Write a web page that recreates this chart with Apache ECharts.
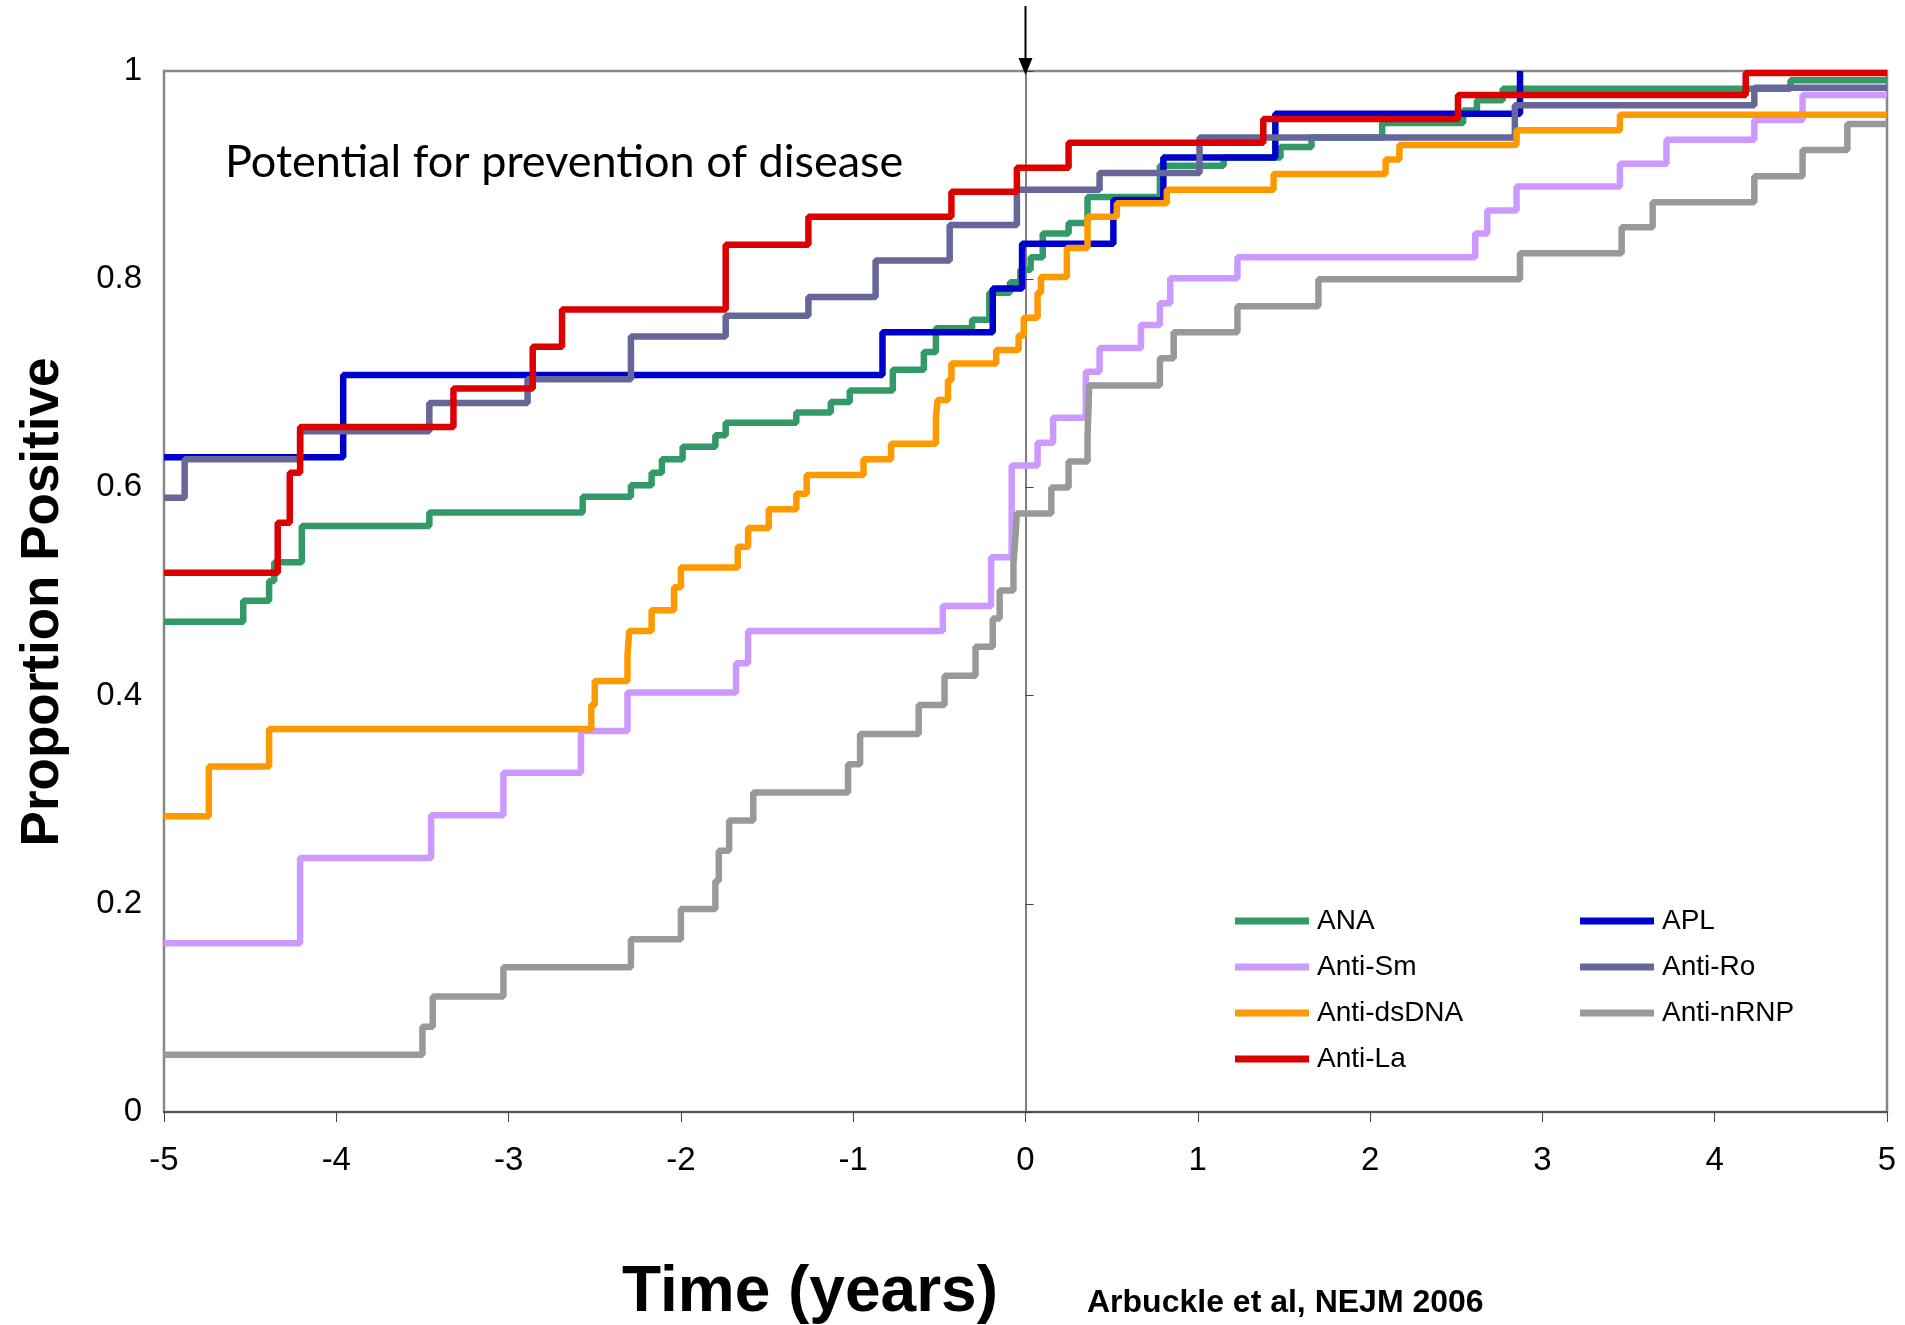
<!DOCTYPE html>
<html>
<head>
<meta charset="utf-8">
<script src="https://cdn.jsdelivr.net/npm/echarts@6/dist/echarts.min.js"></script>
<style>
  html, body { margin: 0; padding: 0; background: #fff; }
  #chart { width: 1905px; height: 1325px; }
</style>
</head>
<body>
<div id="chart"></div>
<script>
// time (years) of each step, value = proportion positive from that time on
var anaT = [-5, -4.54, -4.39, -4.36, -4.20, -3.46, -2.57, -2.29, -2.17, -2.11, -1.99, -1.80, -1.74, -1.33, -1.13, -1.02, -0.77, -0.59, -0.52, -0.31, -0.21, -0.09, -0.03, 0.03, 0.10, 0.25, 0.36, 0.78, 1.15, 1.48, 1.66, 2.07, 2.54, 2.62, 2.77, 4.44, 5];
var anaV = [0.471, 0.491, 0.510, 0.528, 0.563, 0.576, 0.591, 0.602, 0.614, 0.627, 0.639, 0.650, 0.662, 0.672, 0.682, 0.693, 0.713, 0.730, 0.753, 0.761, 0.787, 0.797, 0.809, 0.821, 0.844, 0.854, 0.879, 0.909, 0.917, 0.927, 0.936, 0.950, 0.962, 0.972, 0.983, 0.991, 0.991];

var aplT = [-5, -3.96, -0.83, -0.19, -0.02, 0.51, 0.80, 1.45, 2.87];
var aplV = [0.629, 0.708, 0.749, 0.791, 0.834, 0.876, 0.917, 0.959, 1.0];

var smT = [-5, -4.21, -3.45, -3.03, -2.58, -2.31, -1.68, -1.61, -0.48, -0.20, -0.08, 0.07, 0.16, 0.35, 0.43, 0.67, 0.78, 0.84, 1.23, 2.61, 2.68, 2.85, 3.45, 3.72, 4.23, 4.51, 5];
var smV = [0.162, 0.244, 0.285, 0.326, 0.366, 0.403, 0.431, 0.462, 0.486, 0.533, 0.621, 0.643, 0.667, 0.711, 0.734, 0.756, 0.777, 0.801, 0.821, 0.844, 0.866, 0.889, 0.911, 0.934, 0.953, 0.977, 0.977];

var roT = [-5, -4.88, -4.21, -3.46, -2.89, -2.29, -1.74, -1.26, -0.87, -0.44, -0.05, 0.43, 1.01, 2.84, 4.23, 5];
var roV = [0.590, 0.627, 0.654, 0.681, 0.704, 0.745, 0.765, 0.783, 0.818, 0.852, 0.886, 0.902, 0.936, 0.967, 0.984, 0.984];

var dsT = [-5, -4.74, -4.39, -2.52, -2.50, -2.31, -2.30, -2.17, -2.04, -2.00, -1.67, -1.61, -1.49, -1.33, -1.27, -0.94, -0.78, -0.52, -0.51, -0.45, -0.43, -0.17, -0.04, -0.01, 0.07, 0.09, 0.24, 0.36, 0.53, 0.82, 1.44, 2.09, 2.17, 2.85, 3.45, 5];
var dsV = [0.284, 0.332, 0.368, 0.391, 0.414, 0.438, 0.462, 0.482, 0.504, 0.523, 0.543, 0.561, 0.579, 0.594, 0.612, 0.627, 0.642, 0.667, 0.684, 0.703, 0.719, 0.732, 0.746, 0.763, 0.787, 0.802, 0.830, 0.860, 0.873, 0.886, 0.901, 0.915, 0.929, 0.943, 0.958, 0.958];

var rnpT = [-5, -3.50, -3.44, -3.03, -2.29, -2.00, -1.80, -1.78, -1.72, -1.58, -1.03, -0.96, -0.62, -0.47, -0.29, -0.19, -0.15, -0.07, -0.06, -0.05, 0.15, 0.25, 0.36, 0.37, 0.78, 0.86, 1.23, 1.70, 2.87, 3.46, 3.64, 4.23, 4.51, 4.77, 5];
var rnpV = [0.055, 0.082, 0.111, 0.139, 0.166, 0.195, 0.222, 0.251, 0.280, 0.307, 0.334, 0.363, 0.391, 0.419, 0.447, 0.474, 0.501, 0.527, 0.549, 0.575, 0.600, 0.625, 0.649, 0.698, 0.724, 0.749, 0.774, 0.800, 0.825, 0.850, 0.874, 0.899, 0.924, 0.949, 0.949];

var laT = [-5, -4.34, -4.27, -4.21, -3.32, -2.86, -2.69, -1.74, -1.26, -0.43, -0.05, 0.25, 1.38, 2.51, 4.18, 5];
var laV = [0.518, 0.566, 0.614, 0.658, 0.695, 0.735, 0.771, 0.833, 0.860, 0.884, 0.907, 0.931, 0.954, 0.977, 0.998, 0.998];

var xTicks = [-5, -4, -3, -2, -1, 0, 1, 2, 3, 4, 5];
var yTicks = [0, 0.2, 0.4, 0.6, 0.8, 1];

var names = ['ANA', 'APL', 'Anti-Sm', 'Anti-Ro', 'Anti-dsDNA', 'Anti-nRNP', 'Anti-La'];
var colors = ['#339966', '#0000CC', '#CC99FF', '#666699', '#FF9900', '#999999', '#DD0000'];
var times = [anaT, aplT, smT, roT, dsT, rnpT, laT];
var values = [anaV, aplV, smV, roV, dsV, rnpV, laV];

var font = 'Liberation Sans, Arial, sans-serif';

function pairs(t, v) {
    return t.map(function (x, i) { return [x, v[i]]; });
}

var series = names.map(function (n, i) {
    return {
        name: n,
        type: 'line',
        step: 'end',
        symbol: 'none',
        showSymbol: false,
        xAxisIndex: 0,
        yAxisIndex: 0,
        color: colors[i],
        lineStyle: { width: 6.5, color: colors[i] },
        emphasis: { disabled: true },
        data: pairs(times[i], values[i])
    };
});

var legendBase = {
    orient: 'vertical',
    icon: 'rect',
    itemWidth: 74,
    itemHeight: 7,
    itemGap: 16,
    padding: 0,
    selectedMode: false,
    textStyle: { fontSize: 28, fontFamily: font, color: '#000', lineHeight: 30, padding: [0, 0, 0, 3] }
};

var chart = echarts.init(document.getElementById('chart'));
chart.setOption({
    animation: false,
    backgroundColor: '#fff',
    grid: {
        left: 164, right: 18, top: 71, bottom: 213,
        show: true, borderColor: '#888888', borderWidth: 2.5
    },
    legend: [
        Object.assign({ left: 1235, top: 906, data: ['ANA', 'Anti-Sm', 'Anti-dsDNA', 'Anti-La'] }, legendBase),
        Object.assign({ left: 1580, top: 906, data: ['APL', 'Anti-Ro', 'Anti-nRNP'] }, legendBase)
    ],
    xAxis: {
        type: 'value',
        min: xTicks[0], max: xTicks[xTicks.length - 1], interval: 1,
        axisLine: { onZero: false, lineStyle: { color: '#555', width: 2 } },
        axisTick: { show: true, length: 10, lineStyle: { color: '#444', width: 1 } },
        axisLabel: { margin: 32, fontSize: 33, fontFamily: font, color: '#000' },
        splitLine: { show: false }
    },
    yAxis: [{
        type: 'value',
        min: yTicks[0], max: yTicks[yTicks.length - 1], interval: 0.2,
        position: 'left',
        axisLine: { show: false, onZero: false },
        axisTick: { show: false },
        axisLabel: { margin: 22, fontSize: 33, fontFamily: font, color: '#000' },
        splitLine: { show: false }
    }, {
        type: 'value',
        min: yTicks[0], max: yTicks[yTicks.length - 1], interval: 0.2,
        position: 'right',
        axisLine: { show: true, onZero: true, lineStyle: { color: '#555', width: 1.5 } },
        axisTick: { show: true, length: 8, lineStyle: { color: '#444', width: 1 } },
        axisLabel: { show: false },
        splitLine: { show: false }
    }],
    series: series
});

// annotations placed through the chart's own scale
var p0 = chart.convertToPixel({ xAxisIndex: 0, yAxisIndex: 0 }, [0, 1]);
chart.setOption({
    graphic: [
        { type: 'line', shape: { x1: p0[0], y1: 6, x2: p0[0], y2: p0[1] - 10 }, style: { stroke: '#000', lineWidth: 2 }, z: 100 },
        { type: 'polygon', shape: { points: [[p0[0] - 7, p0[1] - 13], [p0[0] + 7, p0[1] - 13], [p0[0], p0[1] + 4]] }, style: { fill: '#000' }, z: 100 },
        { type: 'text', x: 225, y: 162, style: { text: 'Potential for prevention of disease', font: '45px Lato, sans-serif', fill: '#000', textVerticalAlign: 'middle' }, z: 100 },
        { type: 'text', x: 43, y: 602, rotation: Math.PI / 2, style: { text: 'Proportion Positive', font: 'bold 53px ' + font, fill: '#000', textAlign: 'center', textVerticalAlign: 'middle' }, z: 100 },
        { type: 'text', x: 810, y: 1293, style: { text: 'Time (years)', font: 'bold 64px ' + font, fill: '#000', textAlign: 'center', textVerticalAlign: 'middle' }, z: 100 },
        { type: 'text', x: 1087, y: 1303, style: { text: 'Arbuckle et al, NEJM 2006', font: 'bold 32px ' + font, fill: '#000', textVerticalAlign: 'middle' }, z: 100 }
    ]
});
</script>
</body>
</html>
